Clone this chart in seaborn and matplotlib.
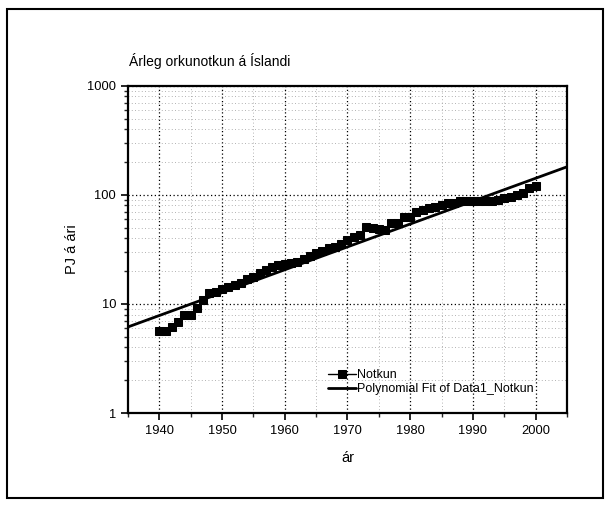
import numpy as np
import pandas as pd
import matplotlib
matplotlib.use("Agg")
import matplotlib.pyplot as plt
import matplotlib.ticker as mticker
from matplotlib.patches import Rectangle
import seaborn as sns

years = list(range(1940, 2001))
notkun = [5.7, 5.7, 6.1, 6.9, 7.9, 7.9, 9.2, 10.9, 12.7, 13.0,
          13.6, 14.2, 14.9, 15.7, 16.8, 17.6, 19.1, 20.5, 22.0, 22.8,
          23.1, 23.6, 24.4, 25.7, 27.5, 29.5, 30.8, 32.4, 33.6, 35.5,
          38.6, 41.4, 43.0, 51.2, 49.4, 48.4, 47.7, 55.0, 55.7, 62.4,
          63.2, 70.0, 72.8, 75.5, 77.0, 80.0, 84.0, 85.0, 87.0, 88.7,
          88.7, 87.0, 87.0, 87.5, 90.0, 93.0, 96.6, 100.0, 105.0, 115.0,
          121.0]
fit_years = [1935, 2005]
fit_values = [6.15, 181.0]

title = "Árleg orkunotkun á Íslandi"
xlabel = "ár"
ylabel = "PJ á ári"
legend_labels = ["Notkun", "Polynomial Fit of Data1_Notkun"]

sns.set_style("white")
plt.rcParams['font.family'] = ['Liberation Sans', 'DejaVu Sans']
plt.rcParams['text.color'] = 'black'
plt.rcParams['axes.labelcolor'] = 'black'

fig = plt.figure(figsize=(6.12, 5.08), dpi=100)
ax = fig.add_axes([0.209, 0.187, 0.7175, 0.644])

df = pd.DataFrame({"year": years, "value": notkun})
dfit = pd.DataFrame({"year": fit_years, "value": fit_values})

sns.lineplot(data=df, x="year", y="value", ax=ax, color="black", marker="s",
             markersize=6.3, markeredgecolor="black", linewidth=1.0,
             label=legend_labels[0], zorder=3)
sns.lineplot(data=dfit, x="year", y="value", ax=ax, color="black",
             linewidth=2.0, label=legend_labels[1], zorder=4)

ax.set_yscale("log")
ax.set_xlim(1935, 2005)
ax.set_ylim(1, 1000)
ax.xaxis.set_major_locator(mticker.MultipleLocator(10))
ax.xaxis.set_minor_locator(mticker.MultipleLocator(5))
ax.yaxis.set_major_locator(mticker.LogLocator(base=10))
ax.yaxis.set_minor_locator(mticker.LogLocator(base=10, subs=np.arange(2, 10)))
ax.yaxis.set_major_formatter(mticker.FuncFormatter(lambda v, p: f"{int(round(v))}"))
ax.yaxis.set_minor_formatter(mticker.NullFormatter())

ax.grid(which="major", linestyle=(0, (1, 2)), color="black", linewidth=0.9)
ax.grid(which="minor", linestyle=(0, (1, 3)), color="#999999", linewidth=0.6)

for s in ax.spines.values():
    s.set_visible(True)
    s.set_color("black")
    s.set_linewidth(1.6)

ax.tick_params(which="major", direction="out", length=5, width=1.2,
               labelsize=9.3, colors="black", bottom=True, left=True)
ax.tick_params(which="minor", direction="out", length=3, width=1.0,
               bottom=True, left=True)

ax.set_xlabel(xlabel, fontsize=10.5, labelpad=10)
ax.set_ylabel(ylabel, fontsize=10.5, labelpad=6)
fig.text(129 / 612, 1 - 61 / 508, title, fontsize=10, ha="left", va="center")

leg = ax.legend(loc="lower left", bbox_to_anchor=(0.445, 0.04), frameon=False,
                fontsize=9, handlelength=2.2, handletextpad=0.1,
                labelspacing=0.15, borderaxespad=0)

fig.patches.append(Rectangle((7 / 612, 1 - 498 / 508), 596 / 612, 489 / 508,
                             transform=fig.transFigure, fill=False,
                             edgecolor="black", linewidth=1.5))

fig.savefig("out.png", dpi=100)
